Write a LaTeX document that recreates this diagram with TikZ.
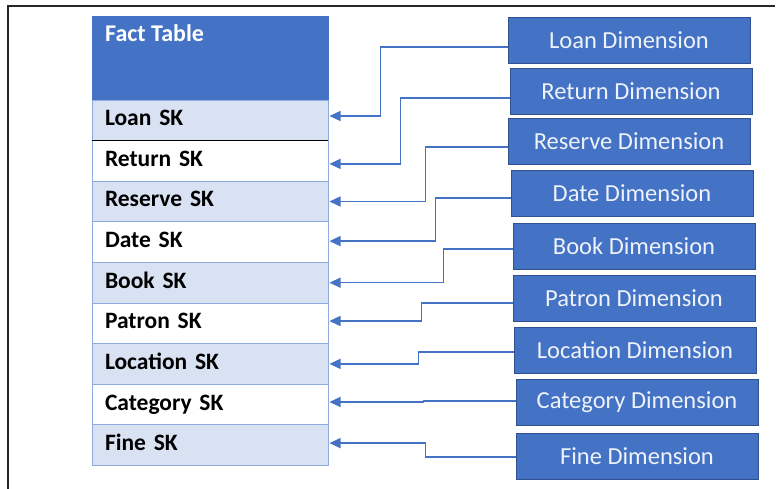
\documentclass[tikz,border=0pt]{standalone}
\usepackage{fontspec}
\setmainfont{Carlito}
\usepackage{tikz}
\usetikzlibrary{positioning,arrows.meta}

\definecolor{factblue}{HTML}{4472C4}
\definecolor{rowfill}{HTML}{D9E2F3}
\definecolor{rowline}{HTML}{8FAADC}
\definecolor{dimline}{HTML}{2F528F}
\definecolor{dimtext}{HTML}{EEF2FA}

\begin{document}
\begin{tikzpicture}[x=1pt, y=-1pt, node distance=0pt,
		row_style/.style={draw=rowline, line width=0.9pt, anchor=north west, minimum height=40.6pt,
			text width=210pt, inner xsep=13pt, inner ysep=0pt, outer sep=0pt, text height=16pt, text depth=5pt,
			align=left, text=black, font=\fontsize{23.5}{23.5}\selectfont\bfseries},
		shade_style/.style={row_style, fill=rowfill},
		head_style/.style={draw=factblue, fill=factblue, anchor=north west, outer sep=0pt,
			minimum width=236pt, minimum height=84pt},
		dim_style/.style={draw=dimline, line width=0.8pt, fill=factblue, text=dimtext, minimum width=242pt,
			minimum height=46pt, font=\fontsize{24.5}{24.5}\selectfont},
		link_style/.style={draw=factblue, line width=1.4pt, shorten >=1.5pt, -{Triangle[length=11pt,width=10pt]}}]

		\useasboundingbox (0,0) rectangle (776,489);
		\draw[line width=1.3pt, black!85] (8,489) -- (8,6) -- (775,6);

		% fact table
		\node[head_style, label={[anchor=north west, inner sep=0pt, text=white, xshift=13pt, yshift=-8pt,
			font=\fontsize{24}{24}\selectfont\bfseries]north west:Fact Table}] (head) at (92,16) {};
		\node[shade_style] (loanR) at (92,100) {Loan SK};
		\node[row_style, below=of loanR] (returnR) {Return SK};
		\node[shade_style, below=of returnR] (reserveR) {Reserve SK};
		\node[row_style, below=of reserveR] (dateR) {Date SK};
		\node[shade_style, below=of dateR] (bookR) {Book SK};
		\node[row_style, below=of bookR] (patronR) {Patron SK};
		\node[shade_style, below=of patronR] (locationR) {Location SK};
		\node[row_style, below=of locationR] (categoryR) {Category SK};
		\node[shade_style, below=of categoryR] (fineR) {Fine SK};
		\draw[line width=1pt, black] (loanR.south west) -- (loanR.south east);

		% dimensions
		\node[dim_style] (loanD) at (629,40) {Loan Dimension};
		\node[dim_style] (returnD) at (631,91) {Return Dimension};
		\node[dim_style] (reserveD) at (629,141) {Reserve Dimension};
		\node[dim_style] (dateD) at (632,193.5) {Date Dimension};
		\node[dim_style] (bookD) at (634,246) {Book Dimension};
		\node[dim_style] (patronD) at (634,298.5) {Patron Dimension};
		\node[dim_style] (locationD) at (635,350) {Location Dimension};
		\node[dim_style] (categoryD) at (637,402) {Category Dimension};
		\node[dim_style] (fineD) at (637,456) {Fine Dimension};

		\draw[link_style] ([yshift=-7pt]loanD.west) -- ++(-127,0) |- ([yshift=4.3pt]loanR.east);
		\draw[link_style] ([yshift=-7pt]returnD.west) -- ++(-109,0) |- ([yshift=-3pt]returnR.east);
		\draw[link_style] ([yshift=-6pt]reserveD.west) -- ++(-82,0) |- (reserveR.east);
		\draw[link_style] ([yshift=-4.5pt]dateD.west) -- ++(-75,0) |- ([yshift=1pt]dateR.east);
		\draw[link_style] ([yshift=-3pt]bookD.west) -- ++(-69,0) |- (bookR.east);
		\draw[link_style] ([yshift=-4.5pt]patronD.west) -- ++(-91,0) |- ([yshift=2.3pt]patronR.east);
		\draw[link_style] ([yshift=-2pt]locationD.west) -- ++(-95,0) |- (locationR.east);
		\draw[link_style] ([yshift=1pt]categoryD.west) -- ++(-92,0) |- ([yshift=2.5pt]categoryR.east);
		\draw[link_style] ([yshift=-1pt]fineD.west) -- ++(-90,0) |- ([yshift=2pt]fineR.east);

\end{tikzpicture}
\end{document}
